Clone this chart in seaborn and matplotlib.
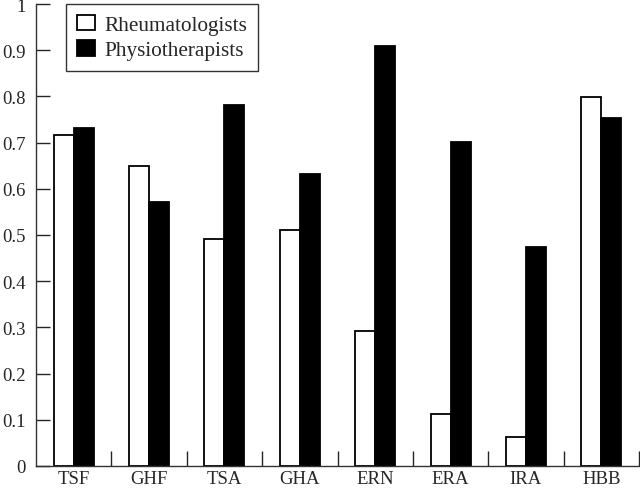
import matplotlib

matplotlib.use("Agg")
import matplotlib.pyplot as plt
import numpy as np
import pandas as pd
import seaborn as sns

# values
tests = ["TSF", "GHF", "TSA", "GHA", "ERN", "ERA", "IRA", "HBB"]
rheumatologists = [0.717, 0.649, 0.491, 0.511, 0.292, 0.113, 0.062, 0.799]
physiotherapists = [0.732, 0.571, 0.781, 0.631, 0.910, 0.702, 0.475, 0.753]
groups = ["Rheumatologists", "Physiotherapists"]
y_ticks = [0, 0.1, 0.2, 0.3, 0.4, 0.5, 0.6, 0.7, 0.8, 0.9, 1.0]

df = pd.DataFrame(
    {
        "test": tests * 2,
        "value": rheumatologists + physiotherapists,
        "group": [groups[0]] * len(tests) + [groups[1]] * len(tests),
    }
)

TICK_FS = 13.5
LEG_FS = 15.3

sns.set_style("ticks")
plt.rcParams["font.family"] = ["Liberation Serif", "DejaVu Serif"]
plt.rcParams["font.size"] = TICK_FS

fig = plt.figure(figsize=(6.4, 4.89), dpi=100)
ax = fig.add_axes([36 / 640, 1 - 467 / 489, 603 / 640, 462 / 489])

sns.barplot(
    data=df,
    x="test",
    y="value",
    hue="group",
    order=tests,
    hue_order=groups,
    palette=["white", "black"],
    saturation=1,
    edgecolor="black",
    linewidth=1.3,
    width=0.53,
    errorbar=None,
    ax=ax,
)

ax.set_xlim(-0.5, len(tests) - 0.5)
ax.set_ylim(0, 1.0)
ax.set_xlabel("")
ax.set_ylabel("")

ax.set_yticks(y_ticks)
ax.set_yticklabels([f"{v:g}" for v in y_ticks])
ax.tick_params(axis="y", direction="in", length=10, width=1, pad=7.5, labelsize=TICK_FS)

ax.set_xticks(np.arange(len(tests)))
ax.set_xticklabels(tests)
ax.set_xticks(np.arange(len(tests)) + 0.5, minor=True)
ax.tick_params(axis="x", which="major", length=0, pad=3, labelsize=TICK_FS)
ax.tick_params(axis="x", which="minor", direction="in", length=11, width=1)

sns.despine(ax=ax)
for side in ("left", "bottom"):
    ax.spines[side].set_linewidth(1)
    ax.spines[side].set_color("#333333")

leg = ax.legend(
    loc="upper left",
    bbox_to_anchor=(0.05, 1.0),
    borderaxespad=0,
    fontsize=LEG_FS,
    frameon=True,
    fancybox=False,
    handlelength=0.85,
    handleheight=0.75,
    handletextpad=0.47,
    labelspacing=0.25,
    borderpad=0.5,
)
leg.get_frame().set_edgecolor("black")
leg.get_frame().set_linewidth(1)

fig.savefig("out.png", dpi=100)
plt.close(fig)
